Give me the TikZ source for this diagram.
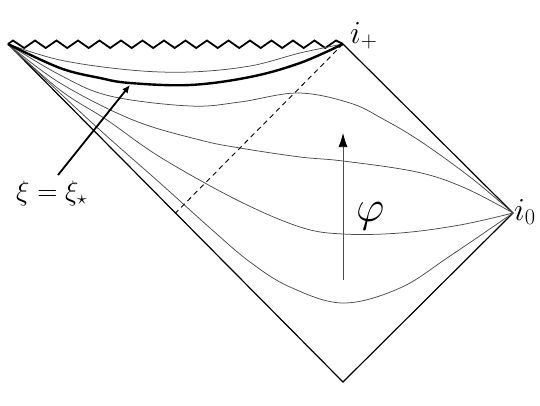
\documentclass[tikz,border=0pt]{standalone}
\usepackage{fix-cm}
\usetikzlibrary{arrows.meta,calc}
\begin{document}
\begin{tikzpicture}[x=1pt,y=-1pt,
  bnd/.style={line width=1.2pt, black, line join=miter},
  fam/.style={line width=0.75pt, black!70},
  crit/.style={line width=2.4pt, black},
  zz/.style={line width=1.8pt, black, line join=miter},
  dsh/.style={line width=0.9pt, black, dash pattern=on 5pt off 4pt},
  phiarrow/.style={line width=0.75pt, black!70, -{Latex[length=14pt,width=9pt,color=black]}},
  xiarrow/.style={line width=1.8pt, black, -{Latex[length=8pt,width=7pt]}},
  lbl/.style={inner sep=0pt, anchor=base west, font=\fontsize{28}{30}\selectfont},
  ilbl/.style={inner sep=0pt, anchor=base west, font=\fontsize{32}{34}\selectfont}]
\useasboundingbox (0,0) rectangle (540,405);
% corners
\coordinate (L) at (8,44);
\coordinate (P) at (343,44);
\coordinate (R) at (513,213);
\coordinate (B) at (343,382);
\coordinate (M) at ($(L)!0.5!(B)$);
% boundary
\draw[bnd] (P) -- (R) -- (B) -- (L);
% singularity
\draw[zz] (L) -- (13,40.5) \foreach \k in {0,...,14} { -- ({24.2+21.5*\k},48) -- ({35+21.5*\k},40.5) } -- (P);
% family of curves
\draw[fam] plot[smooth, tension=0.6] coordinates {(L) (60,60) (130,70) (190,72) (250,66) (300,53) (P)};
\draw[fam] plot[smooth, tension=0.6] coordinates {(L) (60,75) (110,96) (190,106) (240,102) (298,93) (350,103) (383,119) (420,141) (470,177) (R)};
\draw[fam] plot[smooth, tension=0.6] coordinates {(L) (60,83) (133,120) (200,140) (240,148) (300,157) (343,161) (417,172) (465,188) (R)};
\draw[fam] plot[smooth, tension=0.6] coordinates {(L) (60,90) (107,120) (160,157) (237,200) (300,227) (343,234) (400,233) (460,225) (R)};
\draw[fam] plot[smooth, tension=0.6] coordinates {(L) (90,121) (160,183) (210,228) (250,262) (290,287) (343,303) (400,288) (450,256) (R)};
% critical curve
\draw[crit] plot[smooth, tension=0.6] coordinates {(L) (60,68) (100,78) (130,83) (190,85) (250,77) (300,63) (P)};
% dashed line
\draw[dsh] (P) -- (M);
% phi arrow
\coordinate (pa) at (343,280);
\coordinate (pb) at (343,133);
\draw[phiarrow] (pa) -- (pb);
% labels
\node[ilbl] (ip) at (350,43) {$i_+$};
\node[ilbl] (io) at (514,220) {$i_0$};
\node[lbl] (xi) at (16,200) {$\xi=\xi_\star$};
\node[lbl, font=\fontsize{44}{46}\selectfont] (phi) at (356,221) {$\varphi$};
% xi arrow
\coordinate (xa) at (58,175);
\coordinate (xb) at (130,85);
\draw[xiarrow] (xa) -- (xb);
\end{tikzpicture}
\end{document}
